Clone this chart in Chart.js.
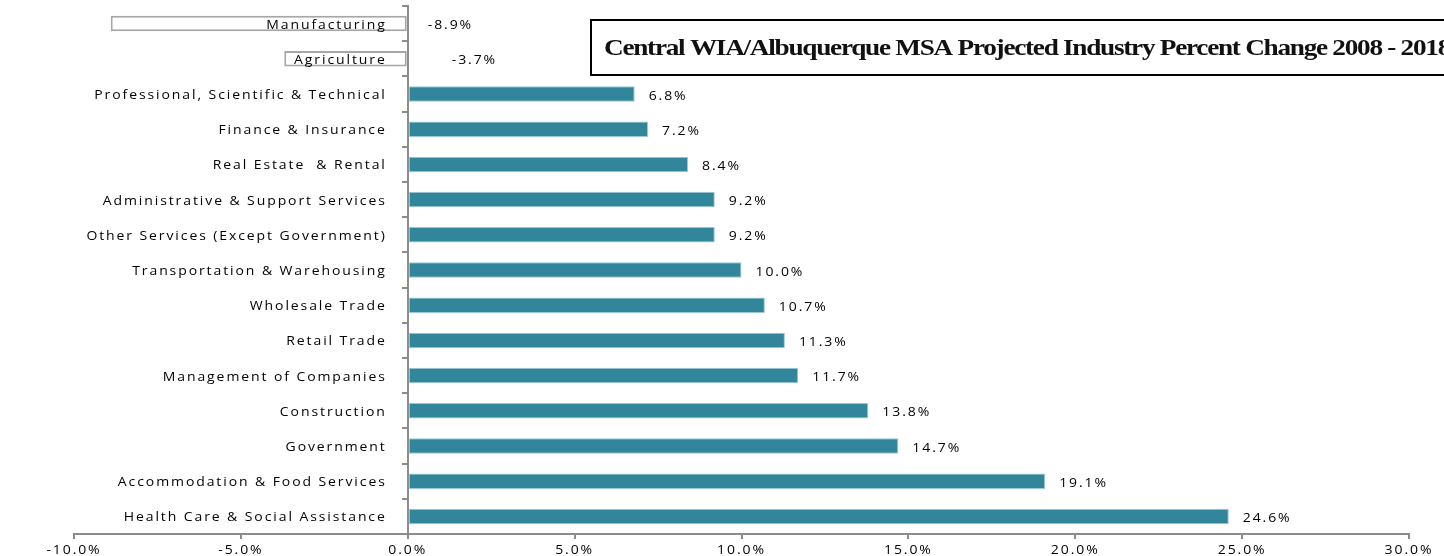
<!DOCTYPE html>
<html>
<head>
<meta charset="utf-8">
<script src="https://cdn.jsdelivr.net/npm/chart.js@4/dist/chart.umd.min.js"></script>
<style>
  html, body { margin: 0; padding: 0; background: #fff; }
</style>
</head>
<body>
<canvas id="chart" width="1444" height="556"></canvas>
<script>
// data, top to bottom as in the picture
const categories = [
  'Manufacturing',
  'Agriculture',
  'Professional, Scientific & Technical',
  'Finance & Insurance',
  'Real Estate  & Rental',
  'Administrative & Support Services',
  'Other Services (Except Government)',
  'Transportation & Warehousing',
  'Wholesale Trade',
  'Retail Trade',
  'Management of Companies',
  'Construction',
  'Government',
  'Accommodation & Food Services',
  'Health Care & Social Assistance'
];
const percentChange = [-8.9, -3.7, 6.8, 7.2, 8.4, 9.2, 9.2, 10.0, 10.7, 11.3, 11.7, 13.8, 14.7, 19.1, 24.6];
const xTicks = [-10, -5, 0, 5, 10, 15, 20, 25, 30];
const chartTitle = 'Central WIA/Albuquerque MSA Projected Industry Percent Change 2008 - 2018';

const TEAL = '#31869b';
const AXIS_GREY = '#8c8c8c';
const LABEL_FONT = '12.5px "Open Sans"';
const SPACING = '1.7px';
const STRETCH = 1.12; // labels in the original are wide and airy
// shift of the labels of negative bars, right of the zero line
const negLabelShift = [20, 44];

function wideText(ctx, txt, x, y, align) {
  ctx.save();
  ctx.translate(x, y);
  ctx.scale(STRETCH, 1);
  ctx.textAlign = align;
  ctx.fillText(txt, 0, 0);
  ctx.restore();
}

const labelPlugin = {
  id: 'labels',
  afterDatasetsDraw(chart) {
    const { ctx, scales: { x, y } } = chart;
    const zero = x.getPixelForValue(0);
    ctx.save();
    ctx.letterSpacing = SPACING;
    ctx.font = LABEL_FONT;
    ctx.fillStyle = '#000';
    ctx.textBaseline = 'middle';

    // category labels sit left of the zero line, over the negative bars
    categories.forEach((c, i) => wideText(ctx, c, zero - 21, y.getPixelForValue(i) + 1.5, 'right'));

    // value labels
    const bars = chart.getDatasetMeta(0).data;
    let neg = 0;
    percentChange.forEach((v, i) => {
      const txt = v.toFixed(1) + '%';
      const yy = bars[i].y + 2;
      if (v < 0) {
        wideText(ctx, txt, zero + negLabelShift[neg++ % negLabelShift.length], yy, 'left');
      } else {
        wideText(ctx, txt, bars[i].x + 14, yy, 'left');
      }
    });

    // x tick labels
    x.ticks.forEach(t => wideText(ctx, t.value.toFixed(1) + '%', x.getPixelForValue(t.value), x.top + 16.5, 'center'));
    ctx.restore();
  },
  afterDraw(chart) {
    const ctx = chart.ctx;
    ctx.save();
    ctx.fillStyle = '#fff';
    ctx.fillRect(591, 20, 900, 55);
    ctx.lineWidth = 2;
    ctx.strokeStyle = '#000';
    ctx.strokeRect(591, 20, 900, 55);
    ctx.font = 'bold 23.5px "Liberation Serif"';
    ctx.letterSpacing = '-1.1px';
    const w = ctx.measureText(chartTitle).width;
    ctx.fillStyle = '#111';
    ctx.textBaseline = 'alphabetic';
    ctx.translate(604, 54.5);
    ctx.scale(846 / w, 1);
    ctx.fillText(chartTitle, 0, 0);
    ctx.restore();
  }
};

const ctx = document.getElementById('chart').getContext('2d');
new Chart(ctx, {
  type: 'bar',
  data: {
    labels: categories,
    datasets: [{
      data: percentChange,
      backgroundColor: percentChange.map(v => v < 0 ? '#ffffff' : TEAL),
      borderColor: percentChange.map(v => v < 0 ? '#a6a6a6' : '#9cc9d6'),
      borderWidth: percentChange.map(v => v < 0 ? 2 : 1),
      borderSkipped: false,
      barPercentage: 0.44,
      categoryPercentage: 1
    }]
  },
  options: {
    indexAxis: 'y',
    responsive: false,
    animation: false,
    layout: { padding: { top: 6, left: 74, right: 35, bottom: 0 } },
    plugins: {
      legend: { display: false },
      tooltip: { enabled: false },
      title: { display: false }
    },
    scales: {
      x: {
        type: 'linear',
        min: xTicks[0],
        max: xTicks[xTicks.length - 1],
        afterBuildTicks: scale => { scale.ticks = xTicks.map(v => ({ value: v })); },
        afterFit: scale => { scale.height = 22; },
        grid: {
          drawOnChartArea: false,
          drawTicks: true,
          tickLength: 5,
          color: AXIS_GREY,
          lineWidth: 2
        },
        border: { display: true, color: AXIS_GREY, width: 2 },
        ticks: { display: false }
      },
      y: {
        type: 'category',
        position: { x: 0 },
        offset: true,
        grid: {
          offset: true,
          drawOnChartArea: false,
          drawTicks: true,
          tickLength: 5,
          color: AXIS_GREY,
          lineWidth: 2
        },
        border: { display: true, color: AXIS_GREY, width: 2 },
        ticks: { display: false }
      }
    }
  },
  plugins: [labelPlugin]
});
</script>
</body>
</html>
